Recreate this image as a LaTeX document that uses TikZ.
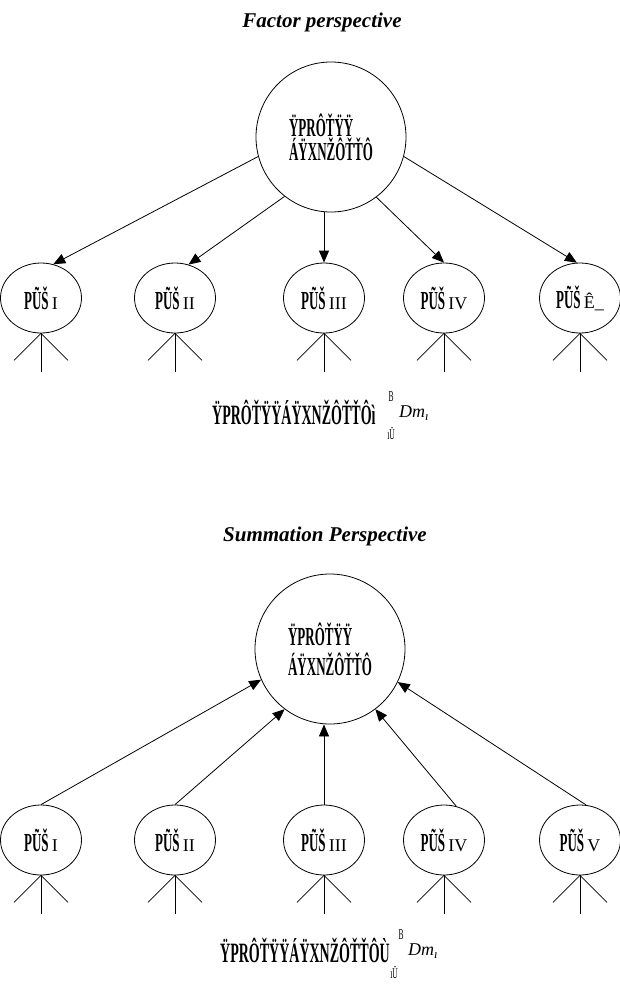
\documentclass[tikz,border=0pt]{standalone}
\usepackage{fontspec}
\setmainfont{Liberation Serif}
\newfontfamily\garb[FakeStretch=0.5]{Liberation Serif}
\usetikzlibrary{shapes.geometric, arrows.meta, positioning}
\tikzset{
  hub/.style={
    circle, draw, line width=0.8pt,
    minimum size=150pt, inner sep=0pt, align=left,
    font=\garb\bfseries\fontsize{26}{#1}\selectfont
  },
  dimnode/.style={
    ellipse, draw, line width=0.8pt,
    minimum width=81pt, minimum height=70pt, inner sep=0pt,
    font=\garb\bfseries\fontsize{26}{28}\selectfont
  },
  ttl/.style={font=\bfseries\itshape\fontsize{21}{24}\selectfont},
  frm/.style={inner sep=0pt, font=\garb\bfseries\fontsize{28}{30}\selectfont},
  lim/.style={inner sep=0pt, font=\garb\fontsize{15}{17}\selectfont},
  arr/.style={line width=0.8pt, -{Triangle[length=12pt,width=10pt]}},
  leg/.style={line width=0.8pt}
}
\newcommand{\rnum}[1]{{\rmfamily\mdseries\fontsize{18}{20}\selectfont #1}}

\begin{document}
\begin{tikzpicture}[x=1pt, y=-1pt]
  \useasboundingbox (0,0) rectangle (620,991);

  % factor perspective
  \node[ttl] (ttlA) at (322,22) {Factor perspective};
  \node[hub=24] (hubA) at (331,137) {ŸPRÔŤŸŸ\\ÁŸXNŽÔŤŤÔ};

  \foreach \n/\x/\r in {1/41/I, 2/175/II, 3/324/III, 4/444/IV, 5/580/{Ê\_}}
    \node[dimnode] (fA\n) at (\x,298) {PŨŠ \rnum{\r}};

  \draw[arr] (hubA.195) -- (fA1.70);
  \draw[arr] (hubA.232) -- (fA2.68);
  \draw[arr] (fA3.north |- hubA.south) -- (fA3.north);
  \draw[arr] (hubA.307) -- (fA4.north);
  \draw[arr] (hubA.345) -- (fA5.95);

  \foreach \n in {1,...,5} {
    \draw[leg] (fA\n.south) -- ++(0,39);
    \draw[leg] (fA\n.south) -- ++(-27,27);
    \draw[leg] (fA\n.south) -- ++(27,27);
  }

  \node[frm, anchor=west] (frmA) at (212,412) {ŸPRÔŤŸŸÁŸXNŽÔŤŤÔì};
  \node[lim] (supA) at (391,397) {B};
  \node[lim] (subA) at (391,433) {ıÜ};
  \node[inner sep=0pt, anchor=west, font=\itshape\fontsize{18}{20}\selectfont]
    (dimA) at (399,413) {Dm\textsubscript{ı}};

  % summation perspective
  \node[ttl] (ttlB) at (325,536) {Summation Perspective};
  \node[hub=30] (hubB) at (330,649) {ŸPRÔŤŸŸ\\ÁŸXNŽÔŤŤÔ};

  \foreach \n/\x/\r in {1/41/I, 2/175/II, 3/324/III, 4/444/IV, 5/580/V}
    \node[dimnode] (fB\n) at (\x,840) {PŨŠ \rnum{\r}};

  \draw[arr] (fB1.north) -- (hubB.204);
  \draw[arr] (fB2.north) -- (hubB.233);
  \draw[arr] (fB3.north) -- (fB3.north |- hubB.south);
  \draw[arr] (fB4.70) -- (hubB.307);
  \draw[arr] (fB5.80) -- (hubB.334);

  \foreach \n in {1,...,5} {
    \draw[leg] (fB\n.south) -- ++(0,39);
    \draw[leg] (fB\n.south) -- ++(-27,27);
    \draw[leg] (fB\n.south) -- ++(27,27);
  }

  \node[frm, anchor=west] (frmB) at (220,950) {ŸPRÔŤŸŸÁŸXNŽÔŤŤÔÙ};
  \node[lim] (supB) at (401,935) {B};
  \node[lim] (subB) at (394,972) {ıÜ};
  \node[inner sep=0pt, anchor=west, font=\itshape\fontsize{18}{20}\selectfont]
    (dimB) at (408,951) {Dm\textsubscript{ı}};
\end{tikzpicture}
\end{document}
